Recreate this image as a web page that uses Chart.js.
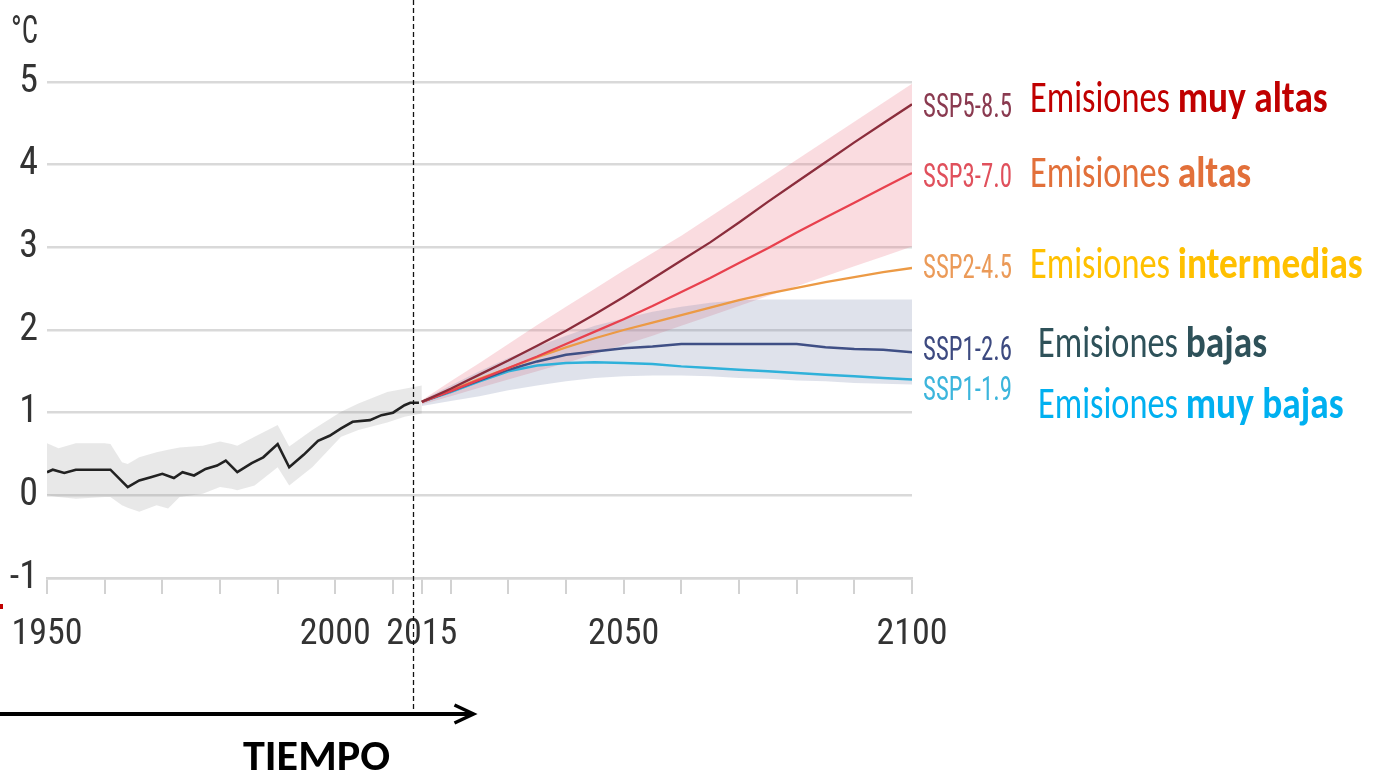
<!DOCTYPE html>
<html>
<head>
<meta charset="utf-8">
<script src="https://cdn.jsdelivr.net/npm/chart.js@4.4.0/dist/chart.umd.min.js"></script>
<style>
html,body{margin:0;padding:0;background:#fff;}
</style>
</head>
<body>
<canvas id="chart" width="1373" height="773"></canvas>
<script>
// observed warming, 1950-2015
const histYears  = [1950,1951,1953,1955,1961,1964,1966,1968,1970,1972,1973.5,1975.5,1977.5,1979.5,1981,1983,1985.5,1987.5,1990,1992,1994.5,1997,1999,2001,2003,2006,2008,2010,2012,2013,2014.5]
const histValues = [0.28,0.31,0.27,0.31,0.31,0.10,0.18,0.22,0.26,0.21,0.28,0.24,0.32,0.36,0.42,0.28,0.39,0.46,0.62,0.34,0.49,0.66,0.72,0.81,0.89,0.91,0.97,1.00,1.09,1.12,1.12]

const histBandYears = [1950,1952,1955,1960,1961,1963,1964,1966,1969,1971,1973,1977,1980,1982,1983,1986,1990,1992,1996,2001,2004,2009,2012,2015]
const histBandHigh  = [0.63,0.57,0.63,0.63,0.62,0.40,0.38,0.46,0.52,0.55,0.58,0.60,0.65,0.62,0.60,0.71,0.85,0.59,0.79,1.01,1.11,1.25,1.29,1.33]
const histBandLow   = [0.00,-0.02,-0.04,-0.02,-0.02,-0.12,-0.15,-0.20,-0.12,-0.16,-0.02,0.02,0.10,0.08,0.06,0.12,0.34,0.12,0.34,0.71,0.79,0.88,0.95,0.99]

// scenarios, 2015-2100
const projYears = [2015,2020,2025,2030,2035,2040,2045,2050,2055,2060,2065,2070,2075,2080,2085,2090,2095,2100]
const ssp119 = [1.13,1.25,1.38,1.50,1.57,1.60,1.61,1.60,1.59,1.56,1.54,1.52,1.50,1.48,1.46,1.44,1.42,1.40]
const ssp126 = [1.13,1.26,1.39,1.52,1.62,1.70,1.74,1.78,1.80,1.83,1.83,1.83,1.83,1.83,1.79,1.77,1.76,1.73]
const ssp245 = [1.13,1.27,1.41,1.54,1.67,1.79,1.90,2.00,2.09,2.18,2.27,2.36,2.44,2.51,2.58,2.64,2.70,2.75]
const ssp370 = [1.13,1.26,1.40,1.54,1.68,1.83,1.98,2.13,2.29,2.46,2.63,2.81,2.99,3.18,3.36,3.54,3.72,3.90]
const ssp585 = [1.13,1.29,1.46,1.63,1.81,1.99,2.19,2.40,2.62,2.84,3.06,3.30,3.55,3.79,4.03,4.27,4.50,4.73]

const highBandTop = [1.15,1.38,1.60,1.83,2.06,2.28,2.50,2.72,2.93,3.14,3.37,3.60,3.83,4.06,4.29,4.52,4.75,4.98]
const highBandBot = [1.10,1.20,1.30,1.40,1.50,1.60,1.71,1.82,1.93,2.05,2.17,2.29,2.41,2.53,2.65,2.77,2.89,3.01]
const lowBandTop  = [1.15,1.33,1.50,1.66,1.80,1.93,2.05,2.14,2.22,2.28,2.33,2.36,2.37,2.37,2.37,2.37,2.37,2.37]
const lowBandBot  = [1.08,1.14,1.20,1.27,1.33,1.38,1.42,1.44,1.45,1.45,1.44,1.42,1.41,1.39,1.38,1.36,1.35,1.34]

const xTicks  = [1950,1960,1970,1980,1990,2000,2010,2015,2020,2030,2040,2050,2060,2070,2080,2090,2100]
const xLabels = [1950,2000,2015,2050,2100]
const dividerYear = 2013.5

const scenarioNames = ['SSP5-8.5','SSP3-7.0','SSP2-4.5','SSP1-2.6','SSP1-1.9']
const scenarioWords = [['Emisiones ','muy altas'],['Emisiones ','altas'],['Emisiones ','intermedias'],['Emisiones ','bajas'],['Emisiones ','muy bajas']]

function pts(xs, ys) {
  return xs.map((x, i) => ({x: x, y: ys[i]}))
}

function line(data, color, width) {
  return {data: data, borderColor: color, borderWidth: width, pointRadius: 0, fill: false, tension: 0, order: 1}
}

function band(data, color, fill) {
  return {data: data, borderWidth: 0, borderColor: 'transparent', backgroundColor: color, pointRadius: 0, fill: fill, tension: 0, order: 5}
}

// text squeezed horizontally, the source uses a narrow face
function drawCondensed(ctx, text, x, y, font, color, sx) {
  ctx.save()
  ctx.font = font
  ctx.fillStyle = color
  ctx.textBaseline = 'alphabetic'
  ctx.textAlign = 'left'
  ctx.translate(x, y)
  ctx.scale(sx, 1)
  ctx.fillText(text, 0, 0)
  const w = ctx.measureText(text).width * sx
  ctx.restore()
  return w
}

function fitScale(ctx, font, text, width) {
  ctx.font = font
  return width / ctx.measureText(text).width
}

const overlay = {
  id: 'overlay',
  afterDraw(chart) {
    const ctx = chart.ctx
    const xs = chart.scales.x
    const area = chart.chartArea
    const top = area.top

    // unit
    const unitFont = '38px "Roboto Condensed"'
    drawCondensed(ctx, '°C', 11, top - 39, unitFont, '#333', fitScale(ctx, unitFont, '°C', 27))

    // dashed divider
    const dx = Math.round(xs.getPixelForValue(dividerYear)) + 0.5
    const arrowY = 714
    ctx.save()
    ctx.strokeStyle = '#111'
    ctx.lineWidth = 1.3
    ctx.setLineDash([5, 3])
    ctx.beginPath()
    ctx.moveTo(dx, 0)
    ctx.lineTo(dx, arrowY)
    ctx.stroke()
    ctx.restore()

    // time arrow
    const tip = dx + 60
    ctx.save()
    ctx.strokeStyle = '#000'
    ctx.lineWidth = 4
    ctx.beginPath()
    ctx.moveTo(0, arrowY)
    ctx.lineTo(tip - 2, arrowY)
    ctx.stroke()
    ctx.lineWidth = 3.5
    ctx.lineJoin = 'miter'
    ctx.beginPath()
    ctx.moveTo(tip - 19, arrowY - 9)
    ctx.lineTo(tip, arrowY)
    ctx.lineTo(tip - 19, arrowY + 9)
    ctx.stroke()
    ctx.restore()

    const timeFont = 'bold 42px Carlito'
    const ts = fitScale(ctx, timeFont, 'TIEMPO', 147)
    drawCondensed(ctx, 'TIEMPO', 243, 770, timeFont, '#000', ts)

    // stray red mark
    ctx.fillStyle = '#c00000'
    ctx.fillRect(0, 604, 3, 5)

    // scenario labels
    const sspFont = '34px "Roboto Condensed"'
    const sspScale = fitScale(ctx, sspFont, 'SSP5-8.5', 89)
    const regFont = '45px Carlito'
    const regScale = fitScale(ctx, regFont, 'Emisiones', 140)
    const boldFont = 'bold 45px Carlito'
    const boldScale = fitScale(ctx, boldFont, 'intermedias', 185)

    const sspColors  = ['#8a3a50','#e0505c','#eb9a58','#3d4a80','#3cb5dc']
    const wordColors = ['#c00000','#e2703a','#ffc000','#2e5159','#00b0f0']
    const sspBase  = [117,187,278,360,400]
    const wordBase = [112,187,278,357,418]
    const wordX    = [1030,1030,1030,1038,1038]
    scenarioNames.forEach((name, i) => {
      drawCondensed(ctx, name, area.right + 11, sspBase[i], sspFont, sspColors[i], sspScale)
      const w = drawCondensed(ctx, scenarioWords[i][0], wordX[i], wordBase[i], regFont, wordColors[i], regScale)
      drawCondensed(ctx, scenarioWords[i][1], wordX[i] + w, wordBase[i], boldFont, wordColors[i], boldScale)
    })
  }
}

const tickFamily = '"Roboto Condensed", "DejaVu Sans Condensed", sans-serif'

new Chart(document.getElementById('chart'), {
  type: 'line',
  data: {
    datasets: [
      line(pts(histYears, histValues), '#222222', 2.6),
      line(pts(projYears, ssp585), '#8b2d3c', 2.3),
      line(pts(projYears, ssp370), '#e8414e', 2.3),
      line(pts(projYears, ssp245), '#ec9a45', 2.3),
      line(pts(projYears, ssp126), '#3f4f85', 2.5),
      line(pts(projYears, ssp119), '#2fb1da', 2.5),
      band(pts(histBandYears, histBandLow), 'transparent', false),
      band(pts(histBandYears, histBandHigh), 'rgba(150,150,150,0.22)', '-1'),
      band(pts(projYears, lowBandBot), 'transparent', false),
      band(pts(projYears, lowBandTop), 'rgba(120,135,170,0.24)', '-1'),
      band(pts(projYears, highBandBot), 'transparent', false),
      band(pts(projYears, highBandTop), 'rgba(235,110,125,0.24)', '-1'),
    ]
  },
  options: {
    responsive: false,
    animation: false,
    layout: {padding: {left: 0, right: 461, top: 82, bottom: 115}},
    plugins: {legend: {display: false}, tooltip: {enabled: false}},
    scales: {
      x: {
        type: 'linear', min: 1950, max: 2100,
        afterBuildTicks: s => { s.ticks = xTicks.map(v => ({value: v})) },
        afterFit: s => { s.height = 80; s.paddingLeft = 0; s.paddingRight = 0 },
        ticks: {
          autoSkip: false, maxRotation: 0, padding: 19, color: '#333', font: {family: tickFamily, size: 36},
          callback: v => xLabels.includes(v) ? String(v) : ''
        },
        grid: {drawOnChartArea: false, drawTicks: true, tickLength: 16, color: '#d2d2d2', lineWidth: 2},
        border: {display: true, color: '#d6d6d6', width: 2.5}
      },
      y: {
        min: -1, max: 5,
        afterFit: s => { s.width = 47 },
        ticks: {stepSize: 1, padding: 9, color: '#333', font: {family: tickFamily, size: 38}},
        grid: {color: '#d9d9d9', lineWidth: 2.5, drawTicks: false},
        border: {display: false}
      }
    }
  },
  plugins: [overlay]
})
</script>
</body>
</html>
